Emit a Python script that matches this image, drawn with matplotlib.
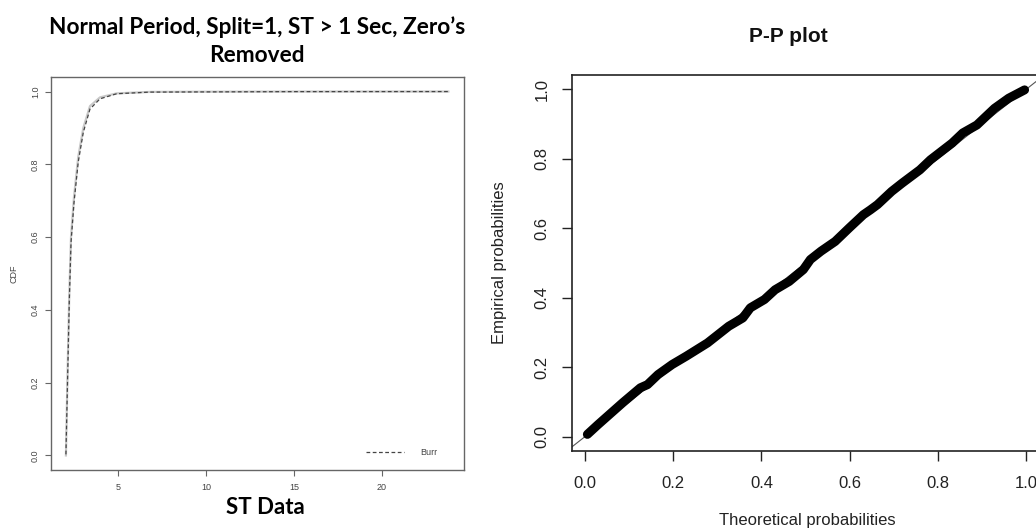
import numpy as np
import matplotlib.pyplot as plt

# left panel: CDF of ST data
st_x = [2.02, 2.11, 2.21, 2.31, 2.48, 2.72, 3.01, 3.39, 3.96, 4.91, 6.8, 9.65, 15.0, 23.8]
burr_cdf = [0.003, 0.20, 0.42, 0.585, 0.695, 0.806, 0.888, 0.952, 0.980, 0.994, 0.9985, 0.999, 0.9998, 1.0]
emp_cdf = [0.0, 0.22, 0.44, 0.60, 0.71, 0.82, 0.90, 0.960, 0.984, 0.995, 0.999, 0.9995, 1.0, 1.0]

# right panel: P-P plot points
theo_p = [0.006, 0.03, 0.086, 0.126, 0.142, 0.166, 0.198, 0.230, 0.278, 0.326, 0.358,
          0.375, 0.407, 0.431, 0.463, 0.495, 0.511, 0.535, 0.567, 0.599, 0.631, 0.647,
          0.663, 0.695, 0.719, 0.759, 0.783, 0.832, 0.856, 0.888, 0.928, 0.960, 0.996]
emp_p = [0.007, 0.035, 0.098, 0.141, 0.150, 0.179, 0.208, 0.232, 0.270, 0.318, 0.342,
         0.371, 0.395, 0.423, 0.447, 0.481, 0.510, 0.534, 0.562, 0.601, 0.639, 0.653,
         0.668, 0.706, 0.730, 0.768, 0.797, 0.845, 0.874, 0.897, 0.945, 0.974, 0.998]

plt.rcParams['font.family'] = ['Liberation Sans', 'DejaVu Sans']

fig = plt.figure(figsize=(10.36, 5.29), dpi=100)
W, H = 1036, 529

def px_axes(x0, y0, x1, y1):
    return fig.add_axes([x0 / W, 1 - y1 / H, (x1 - x0) / W, (y1 - y0) / H])

# ---- left panel
ax1 = px_axes(51, 77, 464, 470)
ax1.plot(st_x, emp_cdf, color='#c8c8c8', lw=1.6)
ax1.plot(st_x, burr_cdf, color='#444444', lw=0.9, ls=(0, (3, 2)), label='Burr')
ax1.set_xlim(1.17, 24.69)
ax1.set_ylim(-0.04, 1.04)
ax1.set_xticks([5, 10, 15, 20])
ax1.set_yticks([0, 0.2, 0.4, 0.6, 0.8, 1.0])
ax1.set_yticklabels(['0.0', '0.2', '0.4', '0.6', '0.8', '1.0'])
for s in ax1.spines.values():
    s.set_color('#666666')
    s.set_linewidth(1.0)
ax1.tick_params(length=4, width=0.8, color='#666666', labelsize=6.5,
                labelcolor='#444444', pad=5)
ax1.tick_params(axis='y', labelrotation=90, pad=4)
for t in ax1.get_yticklabels():
    t.set_va('center')
ax1.set_ylabel('CDF', fontsize=6.5, color='#444444', labelpad=9)
ax1.legend(loc='lower right', frameon=False, fontsize=6.5, handlelength=4.2,
           handletextpad=1.8, labelcolor='#444444', bbox_to_anchor=(0.955, 0.012))

fig.text(257 / W, 1 - 27 / H, 'Normal Period, Split=1, ST > 1 Sec, Zero\u2019s',
         ha='center', va='center', fontsize=16.3, fontweight='bold', family=['Lato', 'DejaVu Sans'])
fig.text(257 / W, 1 - 56 / H, 'Removed',
         ha='center', va='center', fontsize=16.3, fontweight='bold', family=['Lato', 'DejaVu Sans'])
fig.text(265 / W, 1 - 508 / H, 'ST Data',
         ha='center', va='center', fontsize=16, fontweight='bold', family=['Lato', 'DejaVu Sans'])

# ---- right panel
ax2 = px_axes(571.5, 75.3, 1044, 450.7)
ax2.axline((0, 0), slope=1, color='#555555', lw=0.8)
ax2.plot(theo_p, emp_p, color='black', lw=6.5, solid_capstyle='round', solid_joinstyle='round')
ax2.set_xlim(-0.03, 1.04)
ax2.set_ylim(-0.04, 1.04)
ticks = [0, 0.2, 0.4, 0.6, 0.8, 1.0]
labels = ['0.0', '0.2', '0.4', '0.6', '0.8', '1.0']
ax2.set_xticks(ticks)
ax2.set_xticklabels(labels)
ax2.set_yticks(ticks)
ax2.set_yticklabels(labels)
for s in ax2.spines.values():
    s.set_color('#222222')
    s.set_linewidth(1.2)
ax2.tick_params(length=7, width=1.0, color='#222222', labelsize=12,
                labelcolor='#222222', pad=11)
ax2.tick_params(axis='y', labelrotation=90, pad=9)
for t in ax2.get_yticklabels():
    t.set_va('center')
ax2.set_xlabel('Theoretical probabilities', fontsize=12, color='#222222', labelpad=16)
ax2.set_ylabel('Empirical probabilities', fontsize=12, color='#222222', labelpad=20)
fig.text(788 / W, 1 - 37 / H, 'P-P plot', ha='center', va='center',
         fontsize=15, fontweight='bold', color='#111111')

fig.savefig('out.png', dpi=100)
